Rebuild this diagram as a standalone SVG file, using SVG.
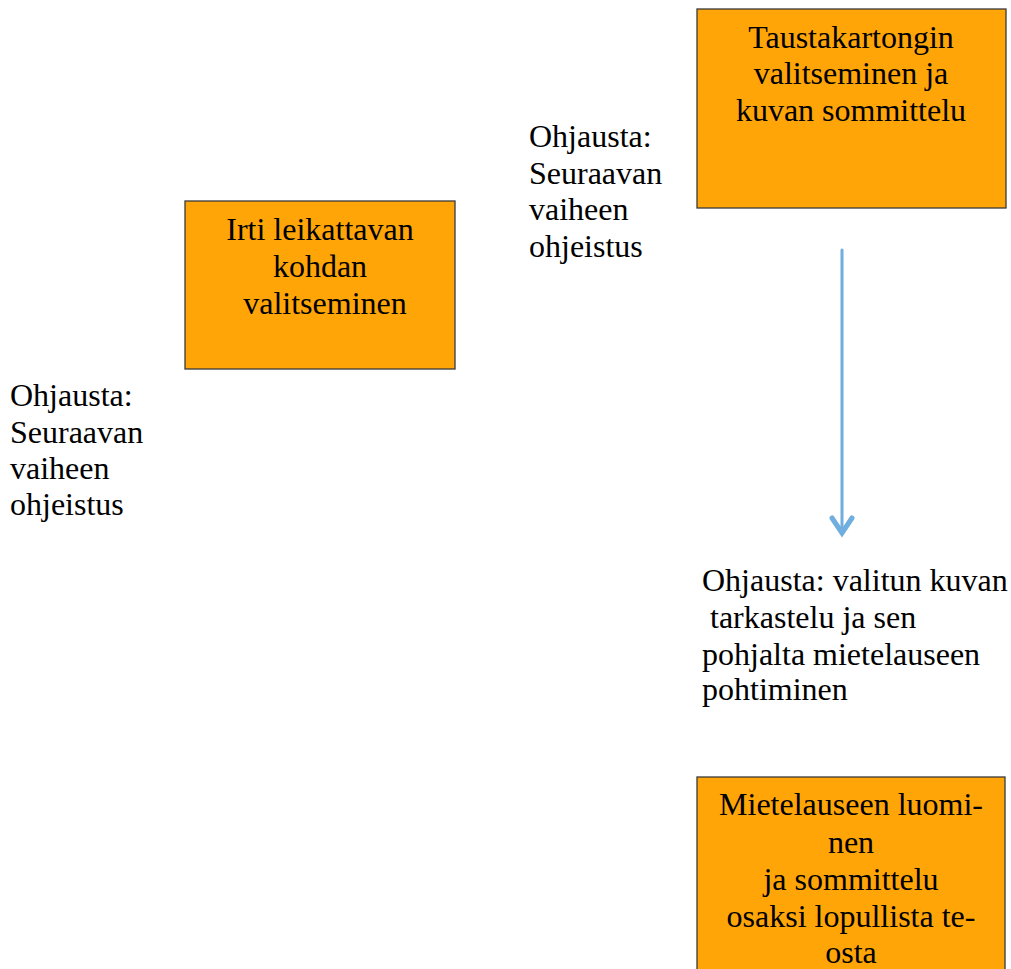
<svg xmlns="http://www.w3.org/2000/svg" width="1011" height="969" viewBox="0 0 1011 969">
<style>
.box{fill:#FFA508;stroke:#3a3a3a;stroke-width:1.3}
.t{font-family:"Liberation Serif","Times New Roman",serif;font-size:32px;fill:#000}
.c{text-anchor:middle}
.conn{stroke:#6FAEDE;stroke-width:3;fill:none;stroke-linecap:round;stroke-linejoin:round}
.head{stroke:#6FAEDE;stroke-width:5;fill:none;stroke-linecap:round;stroke-linejoin:miter}
</style>
<rect width="1011" height="969" fill="#fff"/>
<g id="node-taustakartonki">
<rect class="box" x="697" y="9" width="309" height="199"/>
<text class="t c" x="851"><tspan x="851" y="48">Taustakartongin</tspan><tspan x="851" y="84">valitseminen ja</tspan><tspan x="851" y="121">kuvan sommittelu</tspan></text>
</g>
<g id="node-irti">
<rect class="box" x="185" y="201" width="270" height="168"/>
<text class="t c"><tspan x="320" y="240">Irti leikattavan</tspan><tspan x="320" y="277">kohdan</tspan><tspan x="325" y="314">valitseminen</tspan></text>
</g>
<g id="node-mietelause">
<rect class="box" x="697" y="777" width="308" height="200"/>
<text class="t c"><tspan x="851" y="815">Mietelauseen luomi-</tspan><tspan x="851" y="853">nen</tspan><tspan x="851" y="890">ja sommittelu</tspan><tspan x="851" y="927">osaksi lopullista te-</tspan><tspan x="851" y="963">osta</tspan></text>
</g>
<g id="label-left">
<text class="t"><tspan x="10" y="406">Ohjausta:</tspan><tspan x="10" y="443">Seuraavan</tspan><tspan x="10" y="479">vaiheen</tspan><tspan x="10" y="515">ohjeistus</tspan></text>
</g>
<g id="label-middle">
<text class="t"><tspan x="529" y="147">Ohjausta:</tspan><tspan x="529" y="184">Seuraavan</tspan><tspan x="529" y="220">vaiheen</tspan><tspan x="529" y="257">ohjeistus</tspan></text>
</g>
<g id="label-right">
<text class="t" xml:space="preserve"><tspan x="702" y="591">Ohjausta: valitun kuvan</tspan><tspan x="702" y="628"> tarkastelu ja sen</tspan><tspan x="702" y="665">pohjalta mietelauseen</tspan><tspan x="702" y="700">pohtiminen</tspan></text>
</g>
<g id="connectors">
<line class="conn" x1="842" y1="250" x2="842" y2="532"/>
<polyline class="head" points="832,518 842,533 852,518"/>
</g>
</svg>
